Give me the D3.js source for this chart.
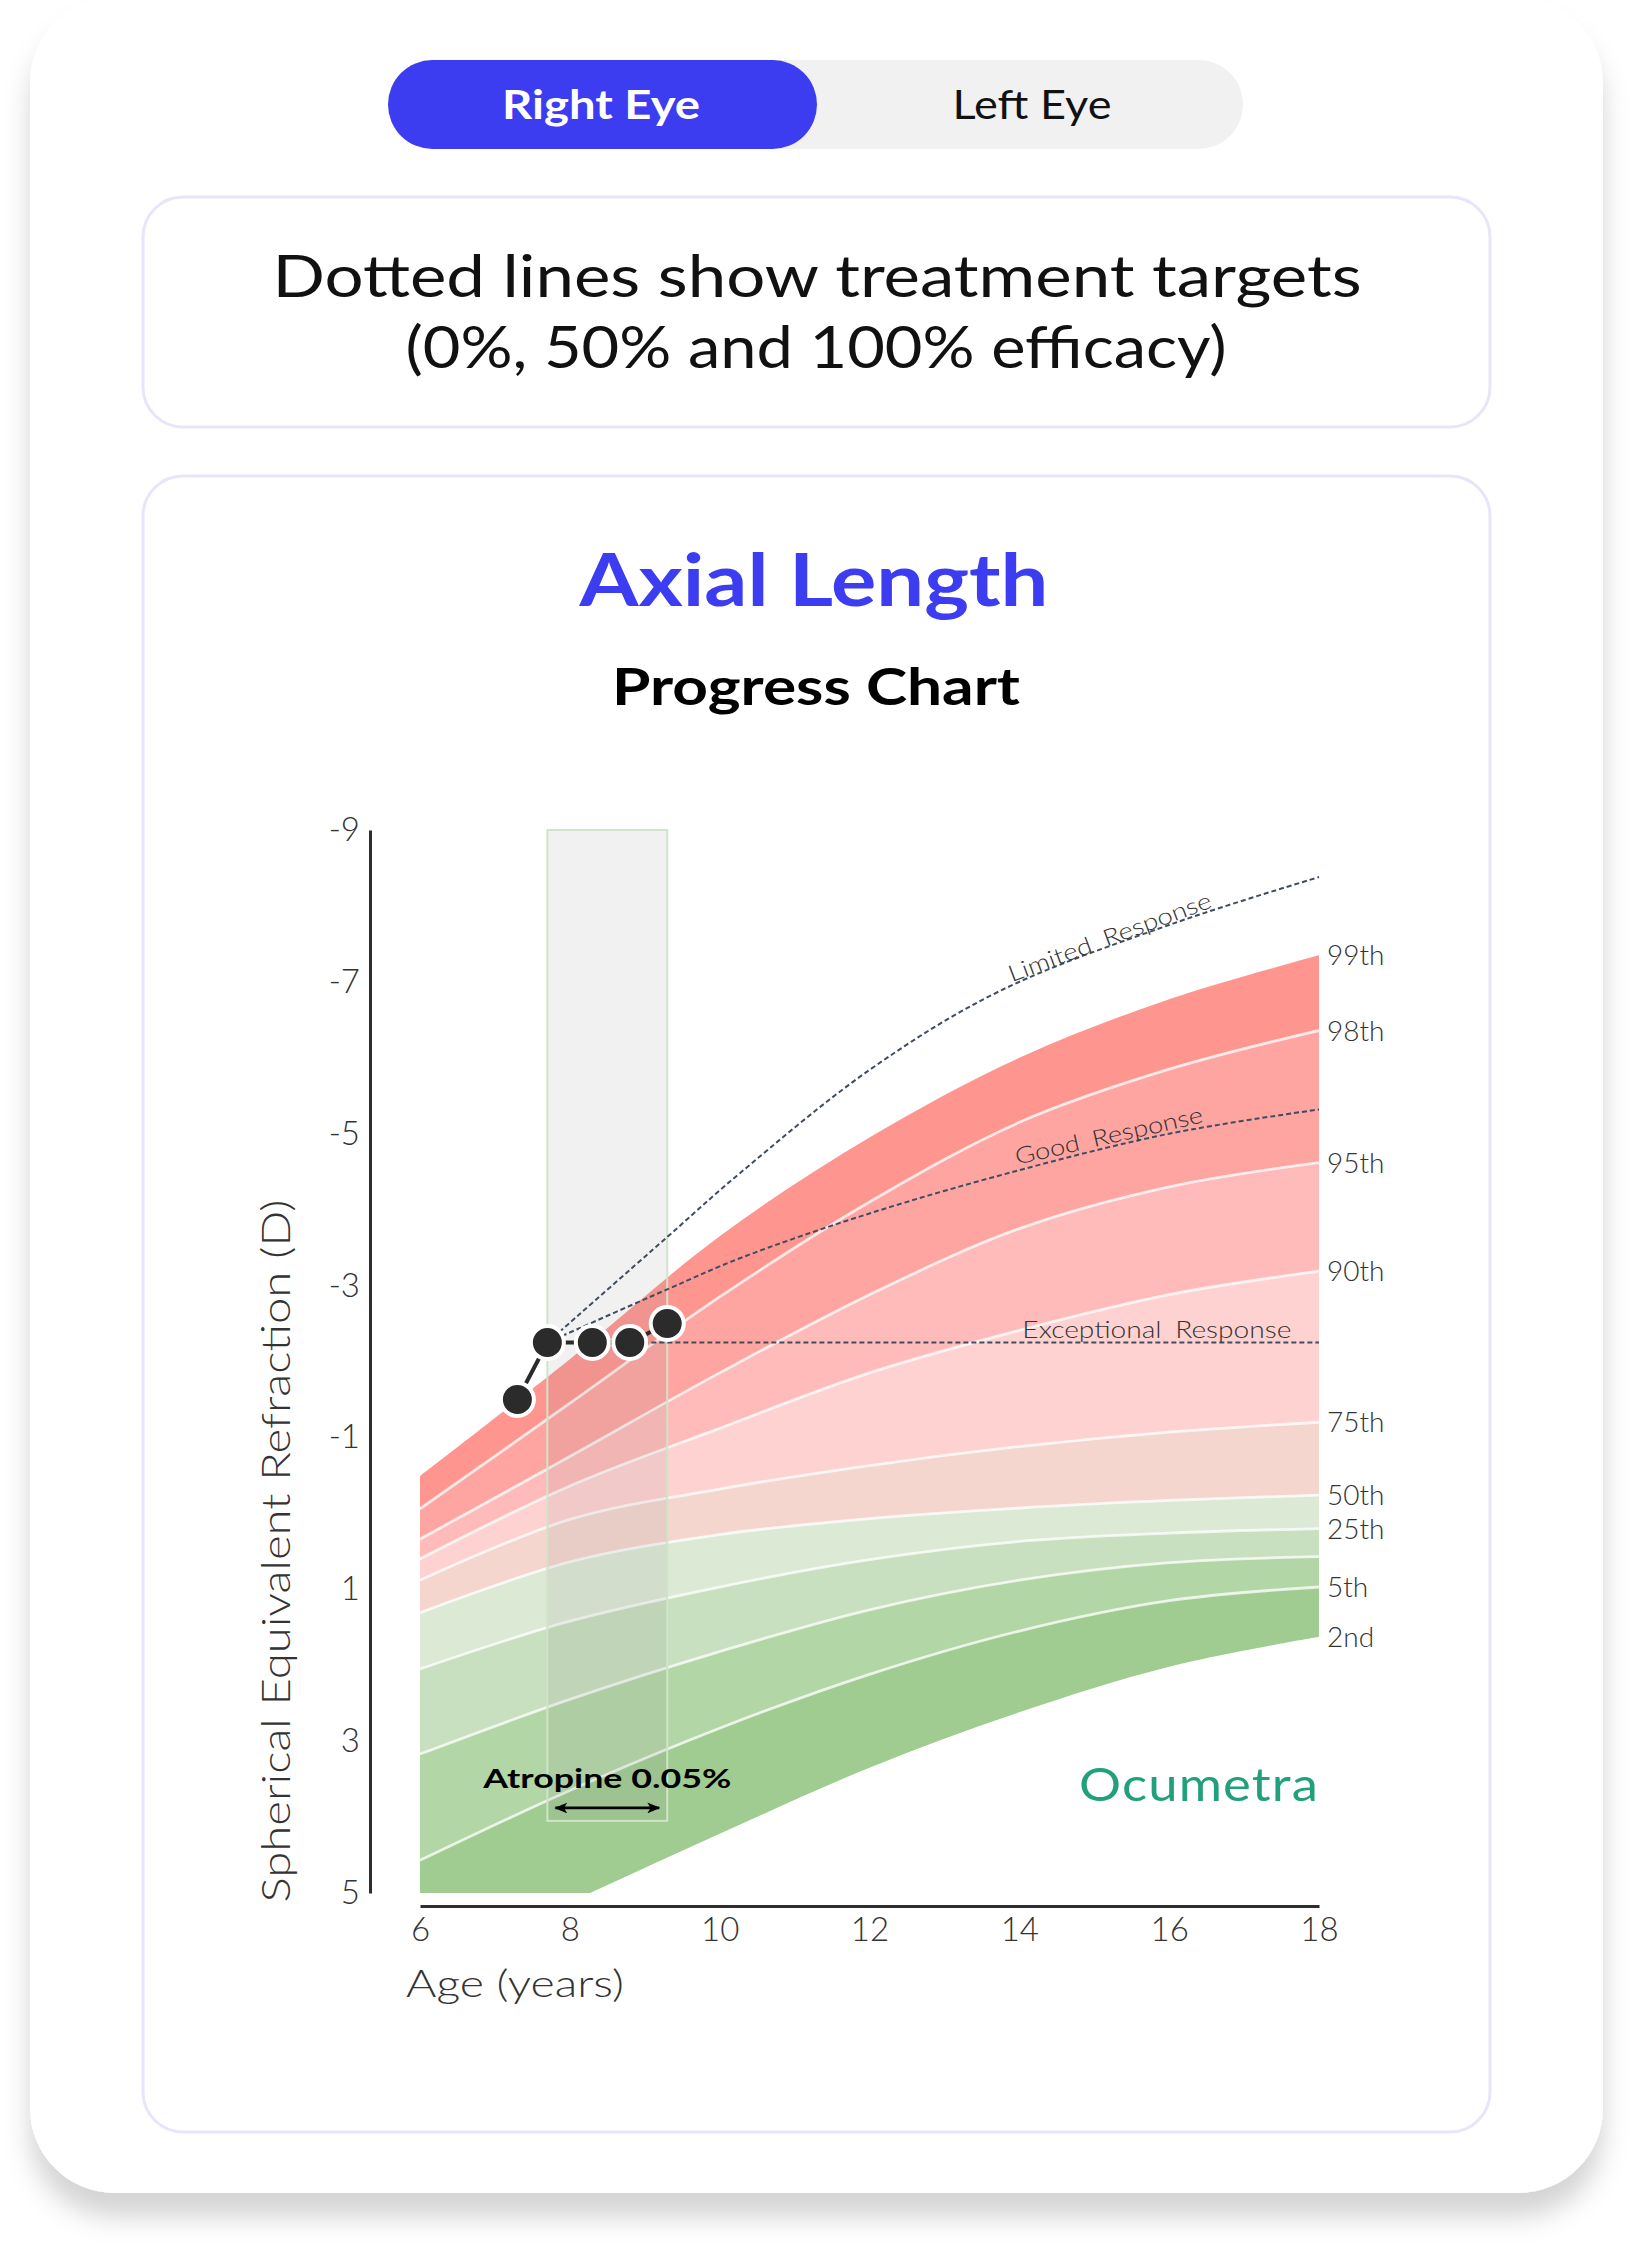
<!DOCTYPE html>
<html>
<head>
<meta charset="utf-8">
<script src="https://cdnjs.cloudflare.com/ajax/libs/d3/7.8.5/d3.min.js"></script>
<style>
  html, body { margin: 0; padding: 0; background: #ffffff; }
  svg { display: block; }
  text { font-family: Lato, "Open Sans", "Noto Sans", sans-serif; }
</style>
</head>
<body>
<svg id="chart" width="1632" height="2253"></svg>
<script>
// ---------------- DATA ----------------
const ages = [6, 8, 10, 12, 14, 16, 18];
const percentileNames = ["99th", "98th", "95th", "90th", "75th", "50th", "25th", "10th", "5th", "2nd"];
const p99 = [-0.49, -2.03, -3.65, -4.95, -6.00, -6.77, -7.35];
const p98 = [-0.06, -1.45, -2.85, -4.10, -5.15, -5.85, -6.36];
const p95 = [0.34, -0.75, -1.85, -2.88, -3.75, -4.30, -4.62];
const p90 = [0.60, -0.36, -1.12, -1.85, -2.41, -2.88, -3.19];
const p75 = [0.88, 0.08, -0.32, -0.63, -0.88, -1.07, -1.20];
const p50 = [1.31, 0.64, 0.28, 0.07, -0.07, -0.17, -0.24];
const p25 = [2.05, 1.42, 0.97, 0.61, 0.37, 0.26, 0.20];
const p10 = [3.17, 2.45, 1.82, 1.27, 0.88, 0.65, 0.57];
const p5  = [4.57, 3.65, 2.83, 2.12, 1.55, 1.15, 0.97];
const p2  = [6.00, 5.12, 4.22, 3.35, 2.62, 2.02, 1.625];
const percentileSeries = [p99, p98, p95, p90, p75, p50, p25, p10, p5, p2];
const labeledPercentiles = ["99th", "98th", "95th", "90th", "75th", "50th", "25th", "5th", "2nd"];

const visitAges = [7.3, 7.7, 8.3, 8.8, 9.3];
const visitSER  = [-1.5, -2.25, -2.25, -2.25, -2.5];

const limitedAges = [7.7, 9.3, 10.27, 12, 13.74, 16.06, 18];
const limitedSER  = [-2.25, -3.64, -4.48, -5.84, -6.88, -7.77, -8.38];
const goodAges = [7.7, 9.3, 10.27, 12, 14, 16, 18];
const goodSER  = [-2.25, -2.95, -3.36, -3.95, -4.52, -5.00, -5.32];
const exceptionalAges = [7.7, 18];
const exceptionalSER  = [-2.25, -2.25];
const responseNames = ["Limited Response", "Good Response", "Exceptional Response"];

const treatmentName = "Atropine 0.05%";
const treatmentStart = 7.7;
const treatmentEnd = 9.3;

const xTicks = [6, 8, 10, 12, 14, 16, 18];
const yTicks = [-9, -7, -5, -3, -1, 1, 3, 5];

// ---------------- STYLE ----------------
const bandColors = ["#ff958f", "#ffa5a1", "#ffbbb9", "#ffd2d2", "#f5d6cf", "#dce9d5", "#c8e0bf", "#b3d6a7", "#a0cc91"];
const blue = "#3c3cf0";
const dashColor = "#3e4d5f";
const textDark = "#333333";

// ---------------- SETUP ----------------
const svg = d3.select("#chart");
const defs = svg.append("defs");

const shadow = defs.append("filter").attr("id", "cardShadow")
  .attr("x", "-10%").attr("y", "-10%").attr("width", "120%").attr("height", "120%");
shadow.append("feDropShadow").attr("dx", 0).attr("dy", 24).attr("stdDeviation", 13)
  .attr("flood-color", "#000").attr("flood-opacity", 0.17);

// outer card
svg.append("rect").attr("x", 30).attr("y", -2).attr("width", 1573).attr("height", 2195)
  .attr("rx", 85).attr("fill", "#fff").attr("filter", "url(#cardShadow)");

// toggle
const tog = svg.append("g");
tog.append("rect").attr("x", 388).attr("y", 60).attr("width", 855).attr("height", 89)
  .attr("rx", 44.5).attr("fill", "#f1f1f1");
tog.append("rect").attr("x", 388).attr("y", 60).attr("width", 429).attr("height", 89)
  .attr("rx", 44.5).attr("fill", blue);
tog.append("text").attr("x", 601).attr("y", 119).attr("text-anchor", "middle")
  .attr("font-size", 41).attr("font-weight", 700).attr("fill", "#fff")
  .attr("textLength", 198).attr("lengthAdjust", "spacingAndGlyphs").text("Right Eye");
tog.append("text").attr("x", 1032).attr("y", 119).attr("text-anchor", "middle")
  .attr("font-size", 41).attr("font-weight", 400).attr("fill", "#111")
  .attr("textLength", 159).attr("lengthAdjust", "spacingAndGlyphs").text("Left Eye");

// info box
svg.append("rect").attr("x", 143).attr("y", 197).attr("width", 1347).attr("height", 230)
  .attr("rx", 40).attr("fill", "#fff").attr("stroke", "#e6e6fb").attr("stroke-width", 3);
svg.append("text").attr("x", 817).attr("y", 297).attr("text-anchor", "middle")
  .attr("font-size", 58).attr("font-weight", 400).attr("fill", "#111")
  .attr("textLength", 1089).attr("lengthAdjust", "spacingAndGlyphs")
  .text("Dotted lines show treatment targets");
svg.append("text").attr("x", 816).attr("y", 368).attr("text-anchor", "middle")
  .attr("font-size", 58).attr("font-weight", 400).attr("fill", "#111")
  .attr("textLength", 821).attr("lengthAdjust", "spacingAndGlyphs")
  .text("(0%, 50% and 100% efficacy)");

// chart card
svg.append("rect").attr("x", 143).attr("y", 476).attr("width", 1347).attr("height", 1656)
  .attr("rx", 40).attr("fill", "#fff").attr("stroke", "#e6e6fb").attr("stroke-width", 3);

svg.append("text").attr("x", 814).attr("y", 606).attr("text-anchor", "middle")
  .attr("font-size", 72).attr("font-weight", 700).attr("fill", blue)
  .attr("textLength", 469).attr("lengthAdjust", "spacingAndGlyphs").text("Axial Length");
svg.append("text").attr("x", 816).attr("y", 705).attr("text-anchor", "middle")
  .attr("font-size", 52).attr("font-weight", 700).attr("fill", "#000")
  .attr("textLength", 408).attr("lengthAdjust", "spacingAndGlyphs").text("Progress Chart");

// ---------------- SCALES ----------------
const x = d3.scaleLinear().domain([6, 18]).range([420, 1319]);
const y = d3.scaleLinear().domain([-9, 5]).range([830, 1893]);

defs.append("clipPath").attr("id", "plotClip").append("rect")
  .attr("x", x(6)).attr("y", y(-9)).attr("width", x(18) - x(6)).attr("height", y(5) - y(-9));

const plot = svg.append("g");
const bands = plot.append("g").attr("clip-path", "url(#plotClip)");

const smooth = d3.curveCatmullRom.alpha(0.5);
const area = d3.area().curve(smooth)
  .x(d => x(d.a)).y0(d => y(d.lo)).y1(d => y(d.hi));
const line = d3.line().curve(smooth).x(d => x(d.a)).y(d => y(d.v));

for (let i = 0; i < percentileSeries.length - 1; i++) {
  const hi = percentileSeries[i], lo = percentileSeries[i + 1];
  const data = ages.map((a, j) => ({ a, hi: hi[j], lo: lo[j] }));
  bands.append("path").attr("d", area(data)).attr("fill", bandColors[i]);
}
for (let i = 1; i < percentileSeries.length - 1; i++) {
  const s = percentileSeries[i];
  bands.append("path").attr("d", line(ages.map((a, j) => ({ a, v: s[j] }))))
    .attr("fill", "none").attr("stroke", "#fff").attr("stroke-width", 2.8).attr("stroke-opacity", 0.75);
}

// treatment window
plot.append("rect")
  .attr("x", x(treatmentStart)).attr("y", y(-9))
  .attr("width", x(treatmentEnd) - x(treatmentStart)).attr("height", y(4.05) - y(-9))
  .attr("fill", "rgb(140,140,140)").attr("fill-opacity", 0.12)
  .attr("stroke", "#cfe4c8").attr("stroke-width", 2);

// response target lines
const respSets = [[limitedAges, limitedSER], [goodAges, goodSER], [exceptionalAges, exceptionalSER]];
respSets.forEach(([aa, vv]) => {
  plot.append("path").attr("d", line(aa.map((a, j) => ({ a, v: vv[j] }))))
    .attr("fill", "none").attr("stroke", dashColor).attr("stroke-width", 2)
    .attr("stroke-dasharray", "5,3");
});

function interp(aa, vv, a) {
  for (let j = 0; j < aa.length - 1; j++) {
    if (a >= aa[j] && a <= aa[j + 1]) {
      const t = (a - aa[j]) / (aa[j + 1] - aa[j]);
      return vv[j] + t * (vv[j + 1] - vv[j]);
    }
  }
  return vv[vv.length - 1];
}
function angleAt(aa, vv, a0, a1) {
  const dx = x(a1) - x(a0), dy = y(interp(aa, vv, a1)) - y(interp(aa, vv, a0));
  return Math.atan2(dy, dx) * 180 / Math.PI;
}
const respLabelCfg = [
  { start: 13.9, end: 16.6, off: 4, len: 215 },
  { start: 13.97, end: 16.5, off: 6, len: 192 },
  { start: 14.04, end: 17.6, off: 5, len: 269 }
];
respSets.forEach(([aa, vv], k) => {
  const c = respLabelCfg[k];
  const px = x(c.start), py = y(interp(aa, vv, c.start));
  const ang = angleAt(aa, vv, c.start, c.end);
  plot.append("text")
    .attr("transform", `translate(${px},${py - c.off}) rotate(${ang})`)
    .attr("font-size", 23).attr("font-weight", 300).attr("fill", textDark)
    .attr("textLength", c.len).attr("lengthAdjust", "spacingAndGlyphs")
    .attr("word-spacing", 5)
    .text(responseNames[k]);
});

// visits
const visits = visitAges.map((a, j) => ({ a, v: visitSER[j] }));
plot.append("path").attr("d", d3.line().x(d => x(d.a)).y(d => y(d.v))(visits))
  .attr("fill", "none").attr("stroke", "#2b2b2b").attr("stroke-width", 4);
plot.selectAll("circle.visit").data(visits).join("circle").attr("class", "visit")
  .attr("cx", d => x(d.a)).attr("cy", d => y(d.v)).attr("r", 16.5)
  .attr("fill", "#2b2b2b").attr("stroke", "#fff").attr("stroke-width", 4);

// percentile labels
percentileNames.forEach((n, i) => {
  if (!labeledPercentiles.includes(n)) return;
  const v = percentileSeries[i][ages.length - 1];
  plot.append("text").attr("x", x(18) + 8).attr("y", y(v)).attr("dy", "0.36em")
    .attr("font-size", 28).attr("font-weight", 300).attr("fill", textDark).text(n);
});

// treatment label + arrow
const mk = defs.append("marker").attr("id", "arrowHead").attr("viewBox", "0 0 12 10")
  .attr("refX", 11).attr("refY", 5).attr("markerWidth", 13).attr("markerHeight", 11)
  .attr("markerUnits", "userSpaceOnUse").attr("orient", "auto-start-reverse");
mk.append("path").attr("d", "M0,0 L12,5 L0,10 L3,5 Z").attr("fill", "#000");
plot.append("line")
  .attr("x1", x(treatmentStart) + 8).attr("x2", x(treatmentEnd) - 8)
  .attr("y1", y(3.88)).attr("y2", y(3.88))
  .attr("stroke", "#000").attr("stroke-width", 2.8)
  .attr("marker-start", "url(#arrowHead)").attr("marker-end", "url(#arrowHead)");
plot.append("text").attr("x", x((treatmentStart + treatmentEnd) / 2)).attr("y", y(3.62))
  .attr("text-anchor", "middle").attr("font-family", "'DejaVu Sans', sans-serif")
  .attr("font-size", 26).attr("font-weight", 700).attr("fill", "#000")
  .attr("textLength", 248).attr("lengthAdjust", "spacingAndGlyphs")
  .text(treatmentName);

// logo
plot.append("text").attr("x", x(18)).attr("y", 1801).attr("text-anchor", "end")
  .attr("font-size", 46).attr("font-weight", 400).attr("fill", "#22a07b")
  .attr("letter-spacing", 1)
  .attr("textLength", 240).attr("lengthAdjust", "spacingAndGlyphs").text("Ocumetra");

// ---------------- AXES ----------------
const yAxis = svg.append("g").attr("transform", "translate(370,0)")
  .call(d3.axisLeft(y).tickValues(yTicks).tickSize(0).tickPadding(10).tickFormat(d => String(d)));
const xAxis = svg.append("g").attr("transform", "translate(0,1906)")
  .call(d3.axisBottom(x).tickValues(xTicks).tickSize(0).tickPadding(12).tickFormat(d => String(d)));
[yAxis, xAxis].forEach(g => {
  g.select(".domain").attr("stroke", "#2e2e2e").attr("stroke-width", 3);
  g.selectAll("text").attr("font-family", "Lato, sans-serif").attr("font-size", 33)
    .attr("font-weight", 300).attr("fill", textDark);
});

svg.append("text").attr("transform", "translate(290,1551) rotate(-90)")
  .attr("text-anchor", "middle").attr("font-size", 40).attr("font-weight", 300).attr("fill", textDark)
  .attr("textLength", 703).attr("lengthAdjust", "spacingAndGlyphs")
  .text("Spherical Equivalent Refraction (D)");
svg.append("text").attr("x", 406).attr("y", 1997)
  .attr("font-size", 37).attr("font-weight", 300).attr("fill", textDark)
  .attr("textLength", 218).attr("lengthAdjust", "spacingAndGlyphs")
  .text("Age (years)");
</script>
</body>
</html>
